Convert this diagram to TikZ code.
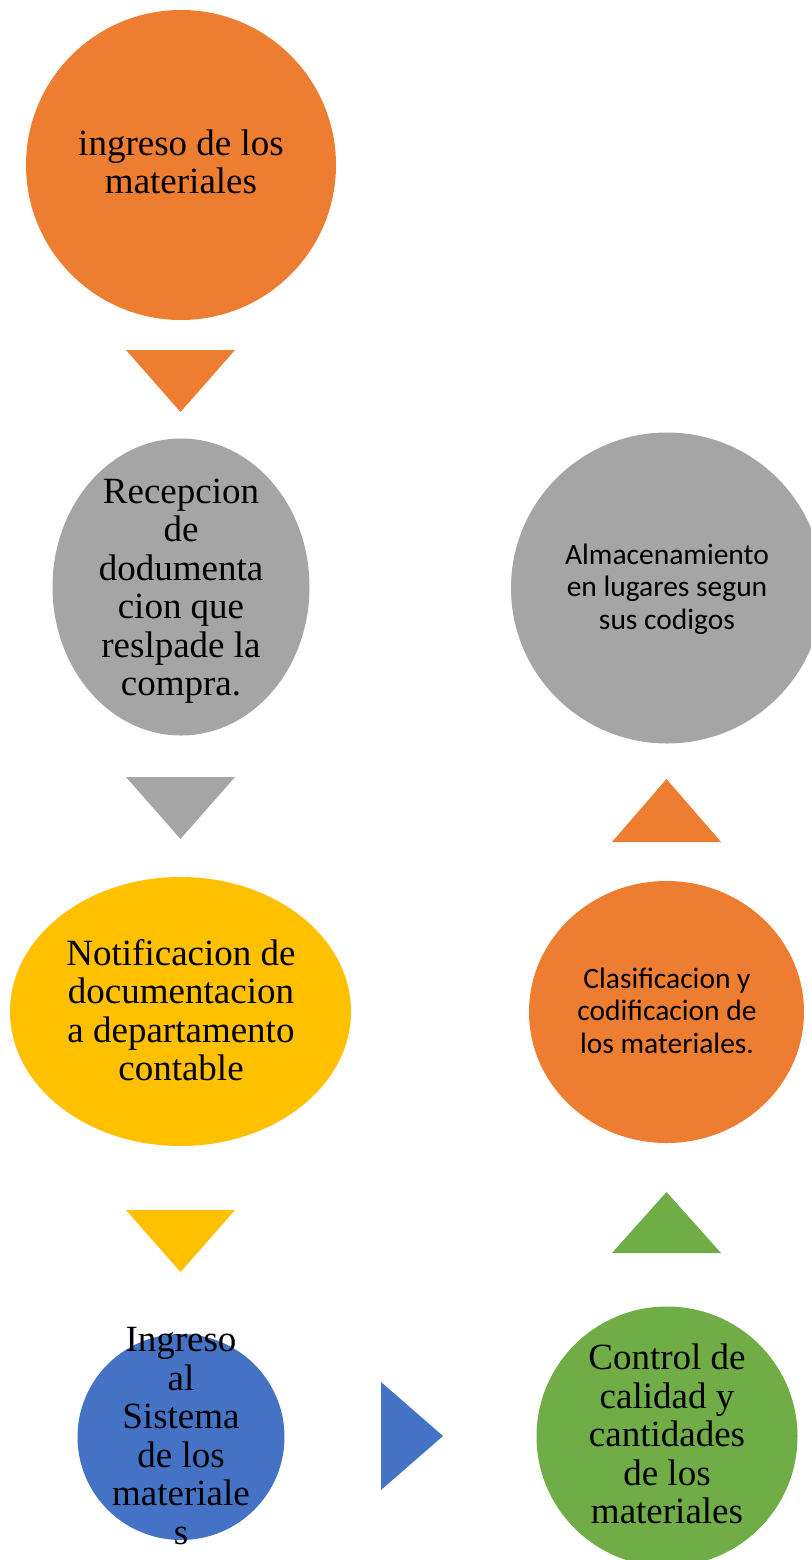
\documentclass[tikz,border=0pt]{standalone}
\usepackage{fontspec}
\setmainfont{Liberation Serif}
\newfontfamily\calfont{Carlito}
\usetikzlibrary{shapes.geometric}
\definecolor{cOrange}{HTML}{ED7D31}
\definecolor{cGray}{HTML}{A5A5A5}
\definecolor{cYellow}{HTML}{FFC000}
\definecolor{cBlue}{HTML}{4472C4}
\definecolor{cGreen}{HTML}{70AD47}
\tikzset{
  blob/.style={ellipse, inner sep=0pt, draw=none},
  sertext/.style={align=center, inner sep=0pt, text=black, font=\fontsize{37}{38.5}\selectfont},
  caltext/.style={align=center, inner sep=0pt, text=black, font=\calfont\fontsize{29.5}{32.5}\selectfont},
}
\begin{document}
\begin{tikzpicture}[x=1pt,y=-1pt]
\useasboundingbox (0,0) rectangle (811,1560);
\clip (0,0) rectangle (811,1560);
% shapes
\node[blob, fill=cOrange, minimum width=310pt, minimum height=310pt] (n1) at (181,165) {};
\node[blob, fill=cGray, minimum width=257pt, minimum height=297pt] (n2) at (181,587) {};
\node[blob, fill=cYellow, minimum width=341pt, minimum height=269pt] (n3) at (180.5,1011.5) {};
\node[blob, fill=cBlue, minimum width=207pt, minimum height=206pt] (n4) at (181,1437) {};
\node[blob, fill=cGreen, minimum width=261pt, minimum height=260pt] (n5) at (667,1436.5) {};
\node[blob, fill=cOrange, minimum width=275pt, minimum height=262pt] (n6) at (666.5,1012) {};
\node[blob, fill=cGray, minimum width=312pt, minimum height=311pt] (n7) at (667,588) {};
% arrow triangles
\fill[cOrange] (126,350) -- (235,350) -- (180.5,412) -- cycle;
\fill[cGray] (126,777) -- (235,777) -- (180.5,839) -- cycle;
\fill[cYellow] (126,1210) -- (235,1210) -- (180.5,1272) -- cycle;
\fill[cBlue] (381,1382) -- (443,1436) -- (381,1490) -- cycle;
\fill[cGreen] (612,1253) -- (721,1253) -- (666.5,1192) -- cycle;
\fill[cOrange] (612,842) -- (721,842) -- (666.5,779) -- cycle;
% texts
\node[sertext] (t1) at (181,162) {ingreso de los\\materiales};
\node[sertext] (t2) at (181,591) {Recepcion\\de\\dodumenta\\cion que\\reslpade la\\compra.};
\node[sertext] (t3) at (181,1010) {Notificacion de\\documentacion\\a departamento\\contable};
\node[sertext] (t4) at (181,1436) {Ingreso\\al\\Sistema\\de los\\materiale\\s};
\node[sertext] (t5) at (667,1434) {Control de\\calidad y\\cantidades\\de los\\materiales};
\node[caltext] (t6) at (667,1010.5) {Clasificacion y\\codificacion de\\los materiales.};
\node[caltext] (t7) at (667,589) {Almacenamiento\\en lugares segun\\sus codigos};
\end{tikzpicture}
\end{document}
